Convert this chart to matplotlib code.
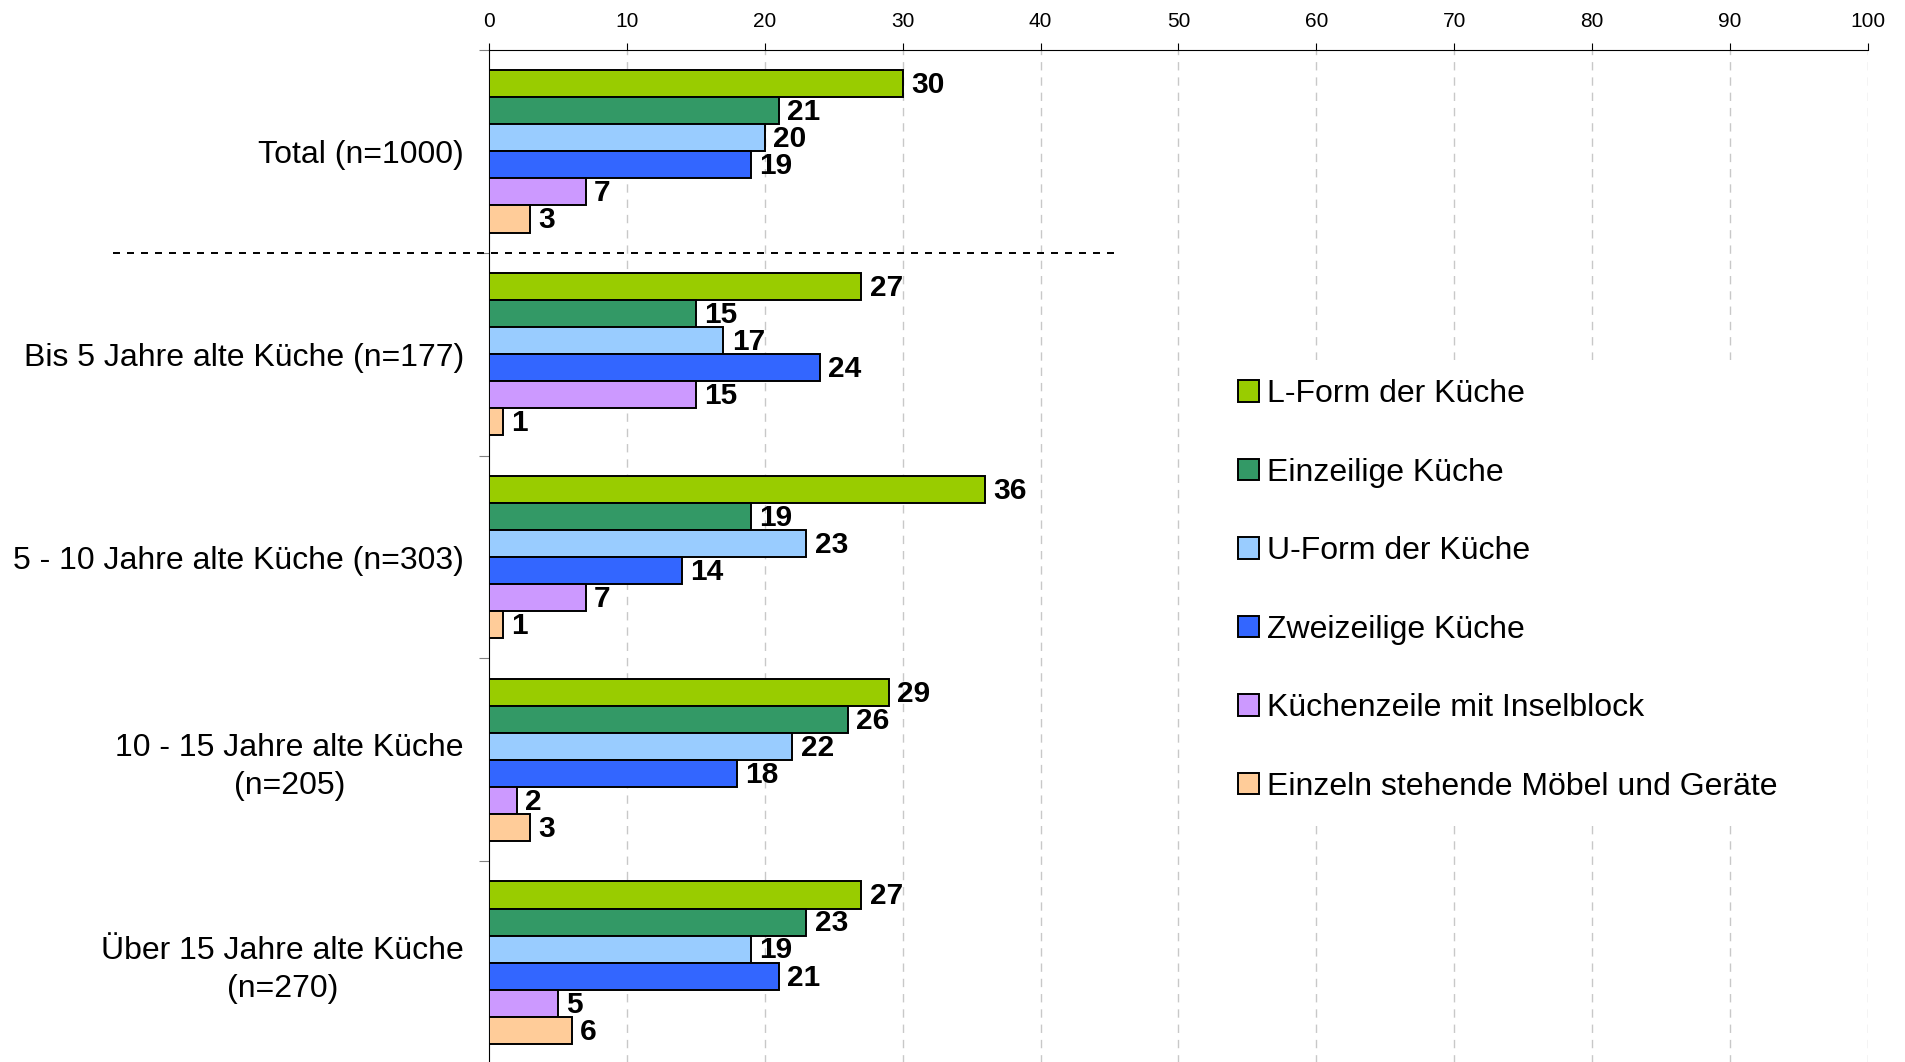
import matplotlib
matplotlib.use('Agg')
import matplotlib.pyplot as plt
from matplotlib import font_manager
import numpy as np

plt.rcParams['font.family'] = ['Liberation Sans', 'DejaVu Sans']

categories = ['Total (n=1000)',
              'Bis 5 Jahre alte Küche (n=177)',
              '5 - 10 Jahre alte Küche (n=303)',
              '10 - 15 Jahre alte Küche\n(n=205)',
              'Über 15 Jahre alte Küche\n(n=270)']

series_names = ['L-Form der Küche',
                'Einzeilige Küche',
                'U-Form der Küche',
                'Zweizeilige Küche',
                'Küchenzeile mit Inselblock',
                'Einzeln stehende Möbel und Geräte']

l_form = [30, 27, 36, 29, 27]
einzeilig = [21, 15, 19, 26, 23]
u_form = [20, 17, 23, 22, 19]
zweizeilig = [19, 24, 14, 18, 21]
inselblock = [7, 15, 7, 2, 5]
einzeln = [3, 1, 1, 3, 6]

colors = ['#99cc00', '#339966', '#99ccff', '#3366ff', '#cc99ff', '#ffcc99']

xticks = [0, 10, 20, 30, 40, 50, 60, 70, 80, 90, 100]

# narrow bold font for the value labels, if there is one
names = set(f.name for f in font_manager.fontManager.ttflist)
if 'Liberation Sans Narrow' in names:
    value_family = ['Liberation Sans Narrow', 'DejaVu Sans']
    value_size = 22.5
else:
    value_family = ['Liberation Sans', 'DejaVu Sans']
    value_size = 21.5

######################################################################

fig = plt.figure(figsize=(19.06, 10.62), dpi=100)
ax = fig.add_axes([489/1906, -2/1062, 1379/1906, 1014/1062])

data = [l_form, einzeilig, u_form, zweizeilig, inselblock, einzeln]
n = len(data)
group = 0.8
h = group / n
y = np.arange(len(categories))

for j, vals in enumerate(data):
    pos = y - group/2 + (j + 0.5)*h
    ax.barh(pos, vals, height=h, color=colors[j], edgecolor='black',
            linewidth=1.4, label=series_names[j], zorder=3)
    for p, v in zip(pos, vals):
        ax.annotate(str(v), (v, p), xytext=(6, -1), textcoords='offset points',
                    ha='left', va='center', fontsize=value_size,
                    fontweight='bold', family=value_family, zorder=4)

ax.set_xlim(0, 100)
ax.set_ylim(len(categories) - 0.5, -0.5)

# x axis on top
ax.xaxis.set_ticks_position('top')
ax.xaxis.set_label_position('top')
ax.set_xticks(xticks)
ax.set_xticklabels([str(t) for t in xticks])
ax.tick_params(axis='x', direction='out', length=5, width=0.8, pad=9,
               labelsize=15, colors='black')

# category labels, ticks only at group boundaries
ax.set_yticks(y)
ax.set_yticklabels(categories, multialignment='center', fontsize=23,
                   linespacing=1.35)
ax.set_yticks(np.arange(-0.5, len(categories)), minor=True)
ax.tick_params(axis='y', which='major', length=0, pad=18)
ax.tick_params(axis='y', which='minor', length=7, width=0.8, color='#808080',
               direction='out')

for s in ['right', 'bottom']:
    ax.spines[s].set_visible(False)
for s in ['top', 'left']:
    ax.spines[s].set_linewidth(0.8)
    ax.spines[s].set_color('black')

for t in xticks[1:]:
    ax.axvline(t, color='#c8c8c8', linewidth=1, linestyle=(0, (6, 5)), zorder=1)

# separator between total and the age groups
ax.plot([-27.3, 45.4], [0.5, 0.5], color='black', linewidth=1.4,
        linestyle=(0, (3.6, 3.6)), clip_on=False, zorder=2)

leg = fig.legend(loc='center left', bbox_to_anchor=(1219/1906, 1 - 590.5/1062),
                 fontsize=23, frameon=True, facecolor='white', edgecolor='none',
                 framealpha=1, fancybox=False, handlelength=0.65,
                 handleheight=0.65, handletextpad=0.25, labelspacing=1.52,
                 borderpad=0.6, borderaxespad=0)

fig.savefig('out.png', dpi=100, facecolor='white')
